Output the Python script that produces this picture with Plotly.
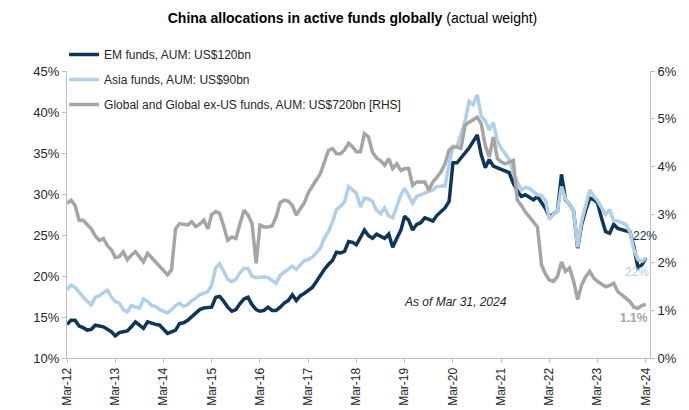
import pandas as pd
import plotly.graph_objects as go

# monthly observations, Mar-2012 .. Mar-2024
months = pd.date_range("2012-03-01", periods=145, freq="MS")

# EM funds, China weight (%), LHS
em_funds = [
    14.1, 14.6, 14.6, 13.9, 13.7, 13.4, 13.5, 14.0, 13.9, 13.8, 13.5, 13.2,
    12.7, 13.1, 13.2, 13.3, 13.8, 14.4, 14.0, 13.6, 14.4, 14.2, 14.1, 14.0,
    13.5, 13.0, 13.2, 13.4, 14.2, 14.3, 14.6, 15.0, 15.4, 15.9, 16.1, 16.1,
    16.2, 17.4, 17.5, 16.9, 16.2, 15.7, 15.9, 16.6, 17.2, 17.4, 16.5, 15.9,
    15.7, 15.8, 16.2, 15.8, 15.8, 16.2, 16.7, 17.0, 17.7, 17.0, 17.6, 17.9,
    18.2, 18.6, 19.3, 20.1, 20.8, 21.4, 21.9, 22.9, 22.8, 23.0, 24.2, 24.1,
    23.8, 24.7, 25.6, 24.9, 24.6, 25.1, 24.8, 24.6, 25.1, 23.5, 24.6, 25.6,
    27.3, 26.8, 25.6, 26.3, 26.5, 27.1, 26.9, 26.7, 27.4, 27.9, 28.3, 29.1,
    33.8, 33.8, 34.4, 35.0, 35.6, 36.4, 37.2, 34.8, 33.2, 34.2, 33.4, 33.2,
    33.0, 32.8, 32.6, 31.3, 30.4, 29.7, 29.9, 29.6, 29.3, 29.7, 28.9, 28.2,
    27.2, 27.5, 27.9, 32.4, 29.3, 28.7, 27.9, 23.4, 26.3, 28.0, 29.5, 29.3,
    28.9, 27.0, 25.4, 25.2, 26.3, 25.8, 25.6, 25.5, 25.4, 23.6, 21.0, 21.4,
    22.2,
]

# Asia funds, China weight (%), LHS
asia_funds = [
    18.3, 18.9, 18.6, 18.0, 17.4, 16.9, 16.5, 17.4, 17.6, 17.9, 18.3, 17.4,
    16.9, 16.7, 15.9, 15.6, 16.4, 16.2, 16.1, 17.2, 16.9, 16.4, 16.3, 15.9,
    15.7, 15.5, 15.9, 16.4, 16.7, 16.3, 16.5, 17.0, 17.3, 17.7, 17.9, 18.1,
    18.9, 21.0, 21.5, 20.6, 19.6, 19.3, 19.6, 20.4, 20.9, 20.9, 20.0, 19.8,
    19.9, 19.9, 19.8, 19.5, 19.1, 20.1, 20.5, 20.9, 21.2, 20.8, 21.4, 21.9,
    22.0, 22.3, 22.8, 23.4, 24.6, 25.4, 26.6, 28.1, 28.5, 29.0, 30.9, 30.5,
    30.1, 28.4, 29.5, 29.4, 29.1, 28.0, 27.6, 28.3, 27.3, 27.1, 28.6, 29.9,
    30.7, 29.8, 28.9, 29.7, 29.9, 30.1, 30.2, 30.5, 30.9, 30.9, 31.0, 33.6,
    35.8, 35.8, 37.5, 38.9, 41.3, 40.9, 42.1, 39.5, 38.9, 37.8, 38.7, 36.4,
    35.6, 34.8, 34.2, 32.5, 31.5, 30.5, 30.8, 30.7, 30.3, 29.9, 29.8, 29.2,
    26.9, 27.5, 27.9, 30.9, 29.4, 28.6, 27.9, 23.5, 26.7, 28.6, 30.5, 29.7,
    29.2, 28.3, 27.5, 28.1, 26.7, 26.7, 26.5, 26.3, 25.4, 23.2, 22.0, 21.8,
    22.2,
]

# Global and Global ex-US funds, China weight (%), RHS
global_funds = [
    3.23, 3.30, 3.19, 2.88, 2.88, 2.78, 2.70, 2.55, 2.46, 2.50, 2.35, 2.26,
    2.10, 2.12, 2.22, 2.05, 2.15, 2.22, 2.12, 2.01, 2.19, 2.10, 2.02, 1.91,
    1.82, 1.74, 1.84, 2.70, 2.81, 2.80, 2.78, 2.85, 2.75, 2.80, 2.88, 2.70,
    3.00, 3.06, 3.02, 2.75, 2.46, 2.53, 2.50, 2.80, 3.09, 2.99, 2.81, 1.98,
    2.78, 2.74, 2.74, 2.76, 2.95, 3.25, 3.30, 3.28, 3.19, 2.99, 3.13, 3.25,
    3.45, 3.60, 3.72, 3.85, 4.10, 4.34, 4.38, 4.27, 4.27, 4.35, 4.49, 4.41,
    4.31, 4.31, 4.69, 4.62, 4.30, 4.18, 4.12, 4.03, 4.17, 3.96, 4.06, 3.92,
    3.96, 3.96, 3.61, 3.68, 3.68, 3.68, 3.51, 3.68, 3.78, 3.89, 4.06, 4.35,
    4.41, 4.41, 4.38, 4.86, 4.93, 4.97, 5.03, 4.90, 4.44, 4.20, 4.62, 4.17,
    4.10, 4.06, 4.10, 4.13, 3.30, 3.19, 3.05, 2.95, 2.85, 2.74, 1.94, 1.75,
    1.63, 1.60, 1.70, 2.01, 1.81, 1.88, 1.60, 1.22, 1.53, 1.70, 1.81, 1.67,
    1.60, 1.55, 1.49, 1.52, 1.56, 1.39, 1.32, 1.25, 1.18, 1.06, 1.04, 1.10,
    1.12,
]

series_names = [
    "EM funds, AUM: US$120bn",
    "Asia funds, AUM: US$90bn",
    "Global and Global ex-US funds, AUM: US$720bn [RHS]",
]

NAVY = "#0e3658"
LIGHT = "#b0d0ea"
GREY = "#a5a5a5"
AXIS = "#bfbfbf"
FONT = "Liberation Sans, Arial, sans-serif"

fig = go.Figure()
fig.add_trace(go.Scatter(x=months, y=em_funds, name=series_names[0], mode="lines",
                         line=dict(color=NAVY, width=3.5), legendgroup="a"))
fig.add_trace(go.Scatter(x=months, y=asia_funds, name=series_names[1], mode="lines",
                         line=dict(color=LIGHT, width=3.5), legendgroup="b"))
fig.add_trace(go.Scatter(x=months, y=global_funds, name=series_names[2], mode="lines",
                         line=dict(color=GREY, width=3.5), legendgroup="c", yaxis="y2"))

# end-of-series labels
fig.add_annotation(x=months[-1], y=em_funds[-1], text="22%", showarrow=False,
                   yshift=22, xshift=-1, font=dict(size=12, color=NAVY))
fig.add_annotation(x=months[-1], y=asia_funds[-1], text="22%", showarrow=False,
                   yshift=-14, xshift=-9, font=dict(size=12, color=LIGHT))
fig.add_annotation(x=months[-1], y=global_funds[-1], yref="y2", text="<b>1.1%</b>",
                   showarrow=False, yshift=-14, xshift=-12, font=dict(size=12, color=GREY))
fig.add_annotation(x=0.666, y=0.164, xref="paper", yref="paper",
                   text="<i>As of Mar 31, 2024</i>", showarrow=False,
                   font=dict(size=12, color="#262626"))

fig.update_layout(
    width=689, height=410,
    margin=dict(l=59, r=47, t=63, b=60),
    paper_bgcolor="white", plot_bgcolor="white",
    font=dict(family=FONT, size=12, color="#262626"),
    title=dict(text="<b>China allocations in active funds globally</b> (actual weight)",
               x=0.5, xref="container", y=0.975, yanchor="middle",
               font=dict(size=14, color="#000000")),
    showlegend=True,
    legend=dict(x=-0.005, y=1.108, xanchor="left", yanchor="top",
                bgcolor="rgba(0,0,0,0)", font=dict(size=12, color="#262626"),
                traceorder="grouped", tracegroupgap=6, itemwidth=30),
    xaxis=dict(type="date", range=["2012-03-01", "2024-04-01"],
               tick0="2012-03-01", dtick="M12", tickformat="%b-%y",
               tickangle=-90, ticks="outside", ticklen=4, tickcolor=AXIS,
               showline=True, linecolor=AXIS, linewidth=1, showgrid=False,
               zeroline=False, tickfont=dict(size=12)),
    yaxis=dict(range=[10, 45], dtick=5, ticksuffix="%", ticks="outside",
               ticklen=4, tickcolor=AXIS, showline=True, linecolor=AXIS,
               showgrid=False, zeroline=False, tickfont=dict(size=13)),
    yaxis2=dict(range=[0, 6], dtick=1, ticksuffix="%", overlaying="y", side="right",
                ticks="outside", ticklen=4, tickcolor=AXIS, showline=True,
                linecolor=AXIS, showgrid=False, zeroline=False,
                tickfont=dict(size=13)),
)

fig.write_html("out.html")
